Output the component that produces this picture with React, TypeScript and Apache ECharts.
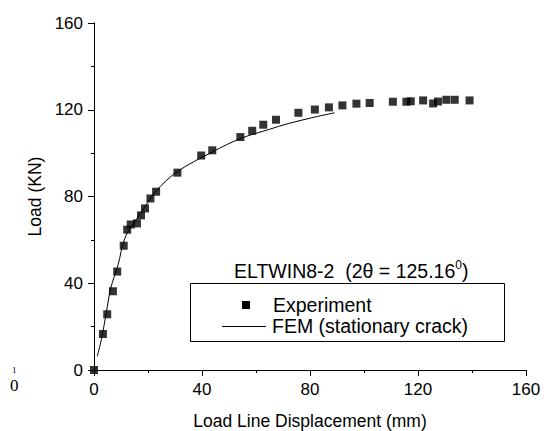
import React, { useEffect, useRef } from "react";
import * as echarts from "echarts";

// Experiment: load line displacement (mm) and load (KN)
const expX = [0, 3.3, 4.9, 7.0, 8.6, 11.0, 12.3, 13.6, 15.9, 17.4, 18.9, 20.9, 23.0, 30.9, 39.7, 43.8, 54.2, 58.6, 62.7, 67.4, 75.7, 81.8, 87.0, 92.0, 97.2, 102.1, 110.7, 115.7, 117.3, 121.9, 125.6, 127.4, 130.5, 133.6, 139.1];
const expY = [0, 16.6, 25.7, 36.3, 45.4, 57.3, 64.7, 67.1, 67.6, 71.3, 74.5, 79.1, 82.2, 91.0, 98.9, 101.3, 107.4, 110.3, 113.1, 115.4, 118.6, 120.1, 121.1, 122.0, 122.8, 123.1, 123.7, 123.7, 123.9, 124.3, 122.9, 123.8, 124.6, 124.6, 124.3];

// FEM (stationary crack)
const femX = [1.2, 2.7, 4.5, 6.2, 8.9, 11.4, 15.1, 19.0, 23.0, 30.9, 43.8, 54.2, 65.0, 71.9, 81.7, 89.1];
const femY = [6.3, 13.9, 26.0, 37.7, 48.4, 60.7, 68.4, 75.5, 82.6, 91.5, 100.5, 106.7, 111.0, 113.6, 116.6, 118.6];

const xTicks = [0, 40, 80, 120, 160];
const yTicks = [0, 40, 80, 120, 160];

const FONT = "'Liberation Sans', Arial, sans-serif";

export default function App() {
  const ref = useRef<HTMLDivElement>(null);
  useEffect(() => {
    if (!ref.current) return;
    const chart = echarts.init(ref.current, null, { renderer: "svg" });
    const axisCommon = {
      axisLine: { show: true, onZero: false, lineStyle: { color: "#000", width: 1 } },
      axisTick: { show: true, inside: false, length: 6, lineStyle: { color: "#000", width: 1 } },
      minorTick: { show: true, splitNumber: 2, length: 3, lineStyle: { color: "#000", width: 1 } },
      splitLine: { show: false },
      axisLabel: { color: "#000", fontSize: 17, fontFamily: FONT, margin: 11 },
      nameTextStyle: { color: "#000", fontSize: 17.5, fontFamily: FONT },
    };
    chart.setOption({
      animation: false,
      backgroundColor: "#fff",
      grid: { left: 86, right: 32, top: 15, bottom: 69, containLabel: false },
      xAxis: {
        type: "value",
        min: xTicks[0],
        max: xTicks[xTicks.length - 1],
        interval: xTicks[1] - xTicks[0],
        name: "Load Line Displacement (mm)",
        nameLocation: "middle",
        nameGap: 42,
        ...axisCommon,
        axisLabel: { ...axisCommon.axisLabel, margin: 11 },
      },
      yAxis: {
        type: "value",
        min: yTicks[0],
        max: yTicks[yTicks.length - 1],
        interval: yTicks[1] - yTicks[0],
        name: "Load (KN)",
        nameLocation: "middle",
        nameGap: 48,
        ...axisCommon,
      },
      series: [
        {
          name: "Experiment",
          type: "scatter",
          symbol: "rect",
          symbolSize: 8,
          itemStyle: { color: "#000" },
          data: expX.map((x, i) => [x, expY[i]]),
          z: 3,
        },
        {
          name: "FEM (stationary crack)",
          type: "line",
          smooth: 0.35,
          showSymbol: false,
          symbol: "none",
          lineStyle: { color: "#000", width: 1 },
          data: femX.map((x, i) => [x, femY[i]]),
          z: 2,
        },
      ],
      graphic: [
        {
          type: "text",
          x: 226,
          y: 263,
          style: {
            text: "ELTWIN8-2  (2θ = 125.16{s|0})",
            fontSize: 19.5,
            fontFamily: FONT,
            fill: "#000",
            verticalAlign: "middle",
            rich: { s: { fontSize: 12, fontFamily: FONT, verticalAlign: "top", padding: [0, 0, 12, 0] } },
          },
        },
        {
          type: "rect",
          shape: { x: 182.5, y: 275.5, width: 314, height: 58 },
          style: { fill: "none", stroke: "#000", lineWidth: 1 },
        },
        {
          type: "rect",
          shape: { x: 234, y: 293, width: 8, height: 8 },
          style: { fill: "#000" },
        },
        {
          type: "text",
          x: 265,
          y: 297,
          style: { text: "Experiment", fontSize: 19.5, fontFamily: FONT, fill: "#000", verticalAlign: "middle" },
        },
        {
          type: "line",
          shape: { x1: 214, y1: 318.5, x2: 258, y2: 318.5 },
          style: { stroke: "#000", lineWidth: 1 },
        },
        {
          type: "text",
          x: 264,
          y: 318,
          style: { text: "FEM (stationary crack)", fontSize: 19.5, fontFamily: FONT, fill: "#000", verticalAlign: "middle" },
        },
        {
          type: "text",
          x: 4,
          y: 357,
          style: { text: "1", fontSize: 9, fontFamily: "'Liberation Serif', serif", fill: "#000" },
        },
        {
          type: "text",
          x: 2,
          y: 369,
          style: { text: "0", fontSize: 17, fontFamily: "'Liberation Serif', serif", fill: "#000" },
        },
      ],
    });
    return () => chart.dispose();
  }, []);
  return <div ref={ref} style={{ width: 550, height: 431 }} />;
}
